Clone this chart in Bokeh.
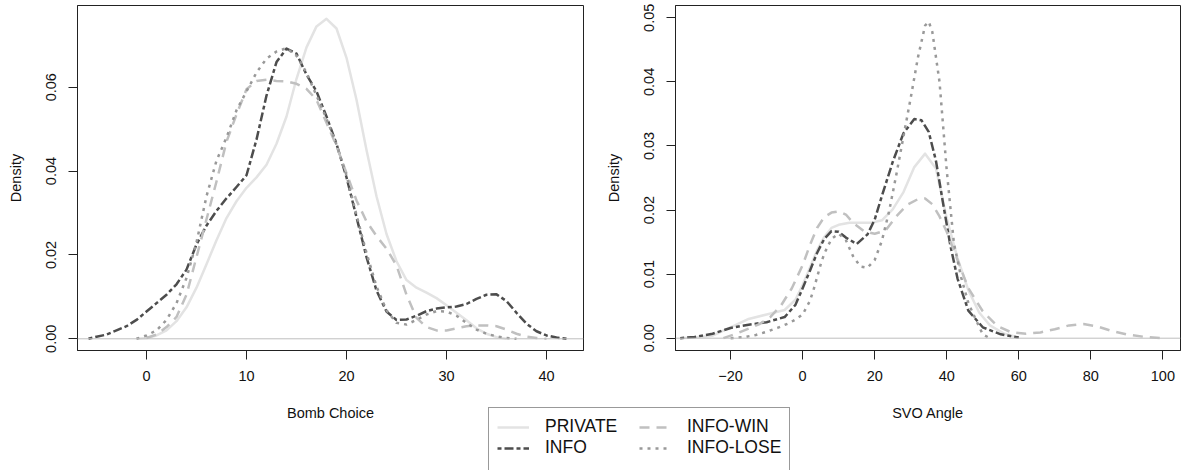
from bokeh.plotting import figure
from bokeh.models import Range1d, FixedTicker, Span, Legend, LegendItem, NumeralTickFormatter
from bokeh.layouts import row, column
from bokeh.embed import file_html
from bokeh.resources import INLINE

# ---------------- data: Bomb Choice densities ----------------
bomb_private_x = [-1, 0, 1, 2, 3, 4, 5, 6, 7, 8, 9, 10, 11, 12, 13, 14, 15, 16, 17, 18, 19, 20,
                  21, 22, 23, 24, 25, 26, 27, 28, 29, 30, 31, 32, 33, 34, 35, 36]
bomb_private_y = [0, 0.0002, 0.0008, 0.002, 0.0042, 0.0075, 0.0122, 0.0178, 0.0235, 0.0288, 0.0328,
                  0.036, 0.0385, 0.0415, 0.0465, 0.053, 0.062, 0.0695, 0.0745, 0.0763, 0.074, 0.067,
                  0.057, 0.045, 0.034, 0.025, 0.0185, 0.014, 0.0122, 0.011, 0.0097, 0.008, 0.0062,
                  0.0044, 0.0025, 0.0012, 0.0004, 0.0]

bomb_info_x = [-5.8, -5, -4, -3, -2, -1, 0, 1, 2, 3, 4, 5, 6, 7, 8, 9, 10, 11, 12, 13, 14, 15, 16,
               17, 18, 19, 20, 21, 22, 23, 24, 25, 26, 27, 28, 29, 30, 31, 32, 33, 34, 35, 36, 37,
               38, 39, 40, 41, 42]
bomb_info_y = [0, 0.0005, 0.001, 0.002, 0.003, 0.0045, 0.0065, 0.0085, 0.0105, 0.013, 0.0165, 0.0225,
               0.027, 0.0305, 0.0335, 0.0362, 0.039, 0.0475, 0.058, 0.066, 0.0692, 0.068, 0.063,
               0.059, 0.053, 0.0465, 0.0385, 0.029, 0.0195, 0.0115, 0.0065, 0.0045, 0.0046, 0.0055,
               0.0066, 0.0072, 0.0075, 0.0077, 0.0083, 0.0095, 0.0105, 0.0106, 0.009, 0.0062,
               0.0036, 0.0018, 0.0008, 0.0003, 0.0]

bomb_win_x = [0, 1, 2, 3, 4, 5, 6, 7, 8, 9, 10, 11, 12, 13, 14, 15, 16, 17, 18, 19, 20, 21, 22, 23,
              24, 25, 26, 27, 28, 29, 30, 31, 32, 33, 34, 35, 36, 37, 38, 39, 40]
bomb_win_y = [0.0002, 0.001, 0.0028, 0.0052, 0.0105, 0.0195, 0.0285, 0.0375, 0.047, 0.0535, 0.0595,
              0.0615, 0.0618, 0.0615, 0.0614, 0.0608, 0.0596, 0.057, 0.0515, 0.046, 0.0395, 0.033,
              0.028, 0.0245, 0.0215, 0.0175, 0.0105, 0.005, 0.0028, 0.002, 0.002, 0.0025, 0.003,
              0.0032, 0.0032, 0.003, 0.0022, 0.0012, 0.0005, 0.0002, 0.0]

bomb_lose_x = [-1, 0, 1, 2, 3, 4, 5, 6, 7, 8, 9, 10, 11, 12, 13, 14, 15, 16, 17, 18, 19, 20, 21,
               22, 23, 24, 25, 26, 27, 28, 29, 30, 31, 32, 33, 34, 35, 36, 37]
bomb_lose_y = [0, 0.0008, 0.002, 0.0045, 0.0085, 0.0145, 0.023, 0.034, 0.0425, 0.048, 0.0545, 0.059,
               0.0635, 0.0668, 0.0685, 0.0693, 0.0675, 0.0635, 0.058, 0.0525, 0.0463, 0.039,
               0.0295, 0.0205, 0.0125, 0.0068, 0.0038, 0.0034, 0.0045, 0.0058, 0.0066, 0.0065,
               0.0055, 0.0038, 0.0022, 0.0012, 0.0006, 0.0002, 0]

# ---------------- data: SVO Angle densities ----------------
svo_private_x = [-34, -30, -25, -20, -15, -10, -5, -2, 0, 2, 4, 6, 8, 10, 13, 16, 19, 22, 25, 28,
                 31, 34, 37, 40, 43, 46, 49, 52, 56, 60]
svo_private_y = [0, 0.0001, 0.0004, 0.0017, 0.003, 0.0037, 0.0044, 0.006, 0.0083, 0.011, 0.0137,
                 0.0158, 0.0172, 0.0177, 0.018, 0.018, 0.018, 0.0184, 0.0201, 0.0228, 0.0267,
                 0.0288, 0.0265, 0.0187, 0.0125, 0.0075, 0.004, 0.002, 0.0007, 0.0001]

svo_info_x = [-34, -30, -25, -20, -15, -10, -5, -2, 0, 2, 4, 6, 8, 10, 12, 15, 18, 20, 22, 25, 28,
              31, 33, 35, 37, 39, 41, 43, 46, 50, 55, 60]
svo_info_y = [0, 0.0002, 0.0007, 0.0016, 0.0021, 0.0025, 0.0033, 0.0052, 0.0078, 0.0105, 0.0133,
              0.0155, 0.0167, 0.0166, 0.0157, 0.0147, 0.0162, 0.0185, 0.0222, 0.0275, 0.032,
              0.0342, 0.034, 0.0322, 0.0277, 0.021, 0.0145, 0.0093, 0.0043, 0.0017, 0.0006, 0.0001]

svo_win_x = [-22, -18, -15, -12, -9, -6, -3, 0, 2, 4, 6, 8, 10, 12, 14, 17, 20, 23, 26, 29, 32, 34,
             36, 38, 40, 43, 46, 50, 54, 58, 62, 66, 70, 74, 78, 82, 86, 90, 95, 100]
svo_win_y = [0, 0.0008, 0.0015, 0.0022, 0.0033, 0.0051, 0.0078, 0.0114, 0.0145, 0.0172, 0.0189,
             0.0196, 0.0198, 0.0193, 0.018, 0.0167, 0.0163, 0.0168, 0.019, 0.0208, 0.0217, 0.0218,
             0.0209, 0.019, 0.0166, 0.0122, 0.0078, 0.0042, 0.0019, 0.0009, 0.0007, 0.0009,
             0.0014, 0.002, 0.0022, 0.0018, 0.0011, 0.0006, 0.0002, 0]

svo_lose_x = [-20, -16, -13, -10, -7, -4, -2, 0, 2, 3, 4, 5, 6, 8, 10, 12, 14, 16, 18, 20, 22, 24,
              26, 28, 30, 32, 34, 35, 36, 38, 40, 42, 44, 46, 48, 50, 52]
svo_lose_y = [0, 0.0002, 0.0005, 0.001, 0.0016, 0.0023, 0.0029, 0.0037, 0.0058, 0.0075, 0.0095,
              0.0115, 0.0132, 0.0155, 0.0163, 0.0153, 0.0128, 0.0112, 0.011, 0.0122, 0.0152,
              0.0198, 0.0255, 0.0315, 0.0375, 0.0438, 0.0488, 0.0494, 0.0478, 0.04, 0.0262,
              0.0148, 0.0095, 0.0055, 0.003, 0.0006, 0]

series_names = ["PRIVATE", "INFO", "INFO-WIN", "INFO-LOSE"]
bomb_xticks = [0, 10, 20, 30, 40]
bomb_yticks = [0.0, 0.02, 0.04, 0.06]
svo_xticks = [-20, 0, 20, 40, 60, 80, 100]
svo_yticks = [0.0, 0.01, 0.02, 0.03, 0.04, 0.05]

STYLES = {
    "PRIVATE": dict(line_color="#E3E3E3", line_dash="solid"),
    "INFO": dict(line_color="#4D4D4D", line_dash="4 3 9 3"),
    "INFO-WIN": dict(line_color="#C0C0C0", line_dash="10 7"),
    "INFO-LOSE": dict(line_color="#999999", line_dash="3 5"),
}
LW = 2.5
FONT = "Liberation Sans"


def make_panel(width, bl, br, xr, yr, xticks, yticks, xlabel, data):
    p = figure(width=width, height=430, x_range=Range1d(*xr), y_range=Range1d(*yr),
               output_backend="svg", toolbar_location=None,
               min_border_left=bl, min_border_right=br, min_border_top=5, min_border_bottom=80)
    p.xgrid.visible = False
    p.ygrid.visible = False
    p.outline_line_color = "#222222"
    p.outline_line_width = 1
    p.background_fill_color = "white"
    p.border_fill_color = "white"
    p.add_layout(Span(location=0, dimension="width", line_color="#BEBEBE", line_width=1))
    for name, (xs, ys) in zip(series_names, data):
        p.line(xs, ys, line_width=LW, line_cap="butt", line_join="round", **STYLES[name])
    for ax in (p.xaxis[0], p.yaxis[0]):
        ax.axis_line_color = "#222222"
        ax.major_tick_line_color = "#222222"
        ax.major_tick_out = 9
        ax.major_tick_in = 0
        ax.minor_tick_line_color = None
        ax.major_label_text_font = FONT
        ax.major_label_text_font_size = "14.5px"
        ax.major_label_text_color = "#111111"
        ax.axis_label_text_font = FONT
        ax.axis_label_text_font_size = "14.5px"
        ax.axis_label_text_font_style = "normal"
        ax.axis_label_text_color = "#111111"
    p.xaxis.ticker = FixedTicker(ticks=xticks)
    p.yaxis.ticker = FixedTicker(ticks=yticks)
    p.yaxis.formatter = NumeralTickFormatter(format="0.00")
    p.yaxis.major_label_orientation = "vertical"
    p.xaxis.axis_label = xlabel
    p.yaxis.axis_label = "Density"
    p.xaxis.major_label_standoff = 11
    p.yaxis.major_label_standoff = 12
    p.xaxis.axis_label_standoff = 21
    p.yaxis.axis_label_standoff = 20
    return p


p1 = make_panel(590, 77, 7, (-6.9, 43.7), (-0.00279, 0.07948), bomb_xticks, bomb_yticks,
                "Bomb Choice",
                [(bomb_private_x, bomb_private_y), (bomb_info_x, bomb_info_y),
                 (bomb_win_x, bomb_win_y), (bomb_lose_x, bomb_lose_y)])
p2 = make_panel(591, 85, 1, (-35.3, 104.9), (-0.00192, 0.05192), svo_xticks, svo_yticks,
                "SVO Angle",
                [(svo_private_x, svo_private_y), (svo_info_x, svo_info_y),
                 (svo_win_x, svo_win_y), (svo_lose_x, svo_lose_y)])

# ---------------- legend strip (its data lie outside its own view) ----------------
lg = figure(width=1181, height=63, x_range=Range1d(1000, 1001), y_range=Range1d(1000, 1001),
            output_backend="svg", toolbar_location=None, x_axis_type=None, y_axis_type=None,
            min_border_left=488, min_border_right=300, min_border_top=0, min_border_bottom=0)
lg.xgrid.visible = False
lg.ygrid.visible = False
lg.outline_line_color = None
lg.background_fill_color = None
lg.border_fill_color = None
lg.margin = (-23, 0, 0, 0)

legend_data = {"PRIVATE": (bomb_private_x, bomb_private_y), "INFO": (bomb_info_x, bomb_info_y),
               "INFO-WIN": (bomb_win_x, bomb_win_y), "INFO-LOSE": (bomb_lose_x, bomb_lose_y)}
rends = {}
for name in series_names:
    xs, ys = legend_data[name]
    rends[name] = lg.line(xs, ys, line_width=LW, line_cap="butt", **STYLES[name])
blank1 = lg.line(bomb_win_x, bomb_win_y, line_alpha=0)
blank2 = lg.line(bomb_lose_x, bomb_lose_y, line_alpha=0)

items = [LegendItem(label="PRIVATE", renderers=[rends["PRIVATE"]]),
         LegendItem(label="INFO", renderers=[rends["INFO"]]),
         LegendItem(label=" ", renderers=[blank1]),
         LegendItem(label="INFO-WIN", renderers=[rends["INFO-WIN"]]),
         LegendItem(label="INFO-LOSE", renderers=[rends["INFO-LOSE"]]),
         LegendItem(label=" ", renderers=[blank2])]
legend = Legend(items=items, location="top_left", orientation="vertical", nrows=3,
                margin=0, padding=8, spacing=0, glyph_width=32, glyph_height=20,
                label_standoff=16, label_width=94, label_height=20,
                label_text_font=FONT, label_text_font_size="17.5px", label_text_color="#111111",
                border_line_color="#333333", border_line_width=1,
                background_fill_color="white", background_fill_alpha=1.0)
lg.add_layout(legend)

layout = column(row(p1, p2), lg)
open("out.html", "w").write(file_html(layout, INLINE))
